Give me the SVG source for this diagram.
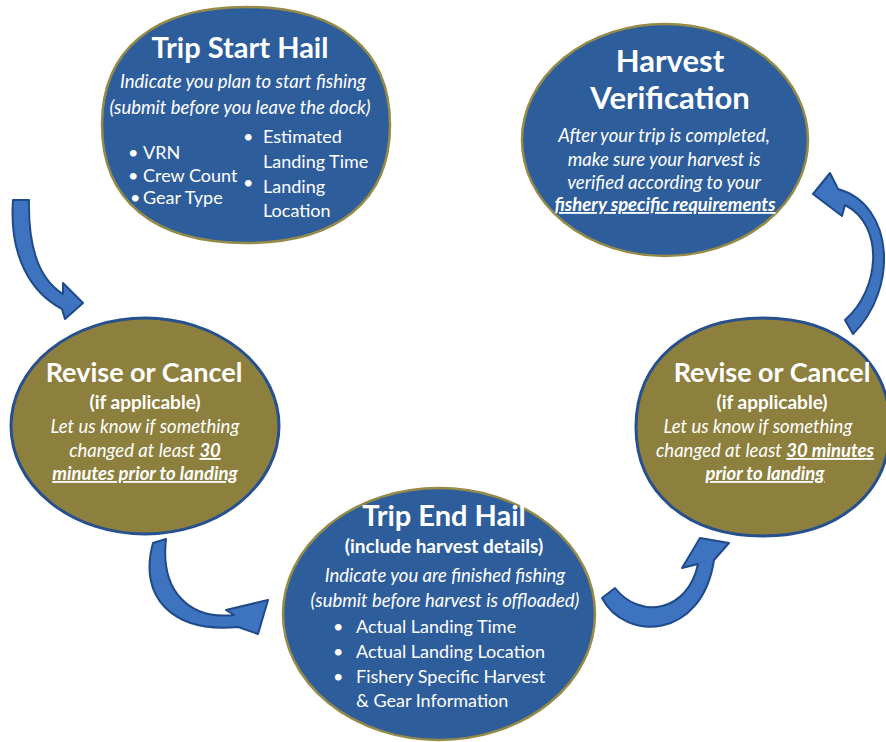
<svg xmlns="http://www.w3.org/2000/svg" width="886" height="742" viewBox="0 0 886 742">
<style>
.bg{fill:#ffffff}
.blue{fill:#2e5d9c;stroke:#958a48;stroke-width:2.5}
.olive{fill:#8d7f3d;stroke:#27508e;stroke-width:3}
.arrow{fill:#3e73c0;stroke:#1f4a8a;stroke-width:2;stroke-linejoin:round}
text{font-family:Lato,"Open Sans","Liberation Sans",sans-serif;fill:#ffffff}
.ttl{font-weight:700;font-size:29px;text-anchor:middle}
.ttl2{font-weight:700;font-size:27px;text-anchor:middle}
.sub{font-weight:700;font-size:19px;text-anchor:middle}
.it{font-style:italic;font-size:18.5px;text-anchor:middle}
.li{font-size:18px}
.u{font-weight:700;text-decoration:underline}
</style>
<rect class="bg" x="0" y="0" width="886" height="742"/>

<g id="trip-start-hail">
<path class="blue" d="M 390 125 C 390 200.5, 338.2 243, 246 243 C 153.8 243, 102 200.5, 102 125 C 102 49.5, 153.8 7, 246 7 C 338.2 7, 390 49.5, 390 125 Z"/>
<text class="ttl" x="240" y="58">Trip Start Hail</text>
<text class="it" x="243" y="88">Indicate you plan to start fishing</text>
<text class="it" x="240" y="114">(submit before you leave the dock)</text>
<text class="li" x="128" y="159">•</text><text class="li" x="143" y="159">VRN</text>
<text class="li" x="128" y="182">•</text><text class="li" x="143" y="182">Crew Count</text>
<text class="li" x="130" y="204">•</text><text class="li" x="143" y="204">Gear Type</text>
<text class="li" x="243" y="143">•</text><text class="li" x="263" y="143">Estimated</text>
<text class="li" x="263" y="168">Landing Time</text>
<text class="li" x="243" y="189">•</text><text class="li" x="263" y="193">Landing</text>
<text class="li" x="263" y="217">Location</text>
</g>

<g id="harvest-verification">
<ellipse class="blue" cx="665" cy="140" rx="143" ry="116"/>
<text class="ttl" x="670" y="72" style="font-size:31px">Harvest</text>
<text class="ttl" x="670" y="109" style="font-size:31px">Verification</text>
<text class="it" x="664" y="142">After your trip is completed,</text>
<text class="it" x="664" y="166">make sure your harvest is</text>
<text class="it" x="664" y="189">verified according to your</text>
<text class="it u" x="665" y="211">fishery specific requirements</text>
</g>

<g id="revise-cancel-left">
<ellipse class="olive" cx="145" cy="426" rx="134" ry="108"/>
<text class="ttl2" x="144" y="382">Revise or Cancel</text>
<text class="sub" x="145" y="409">(if applicable)</text>
<text class="it" x="145" y="433">Let us know if something</text>
<text class="it" x="145" y="457">changed at least <tspan class="u">30</tspan></text>
<text class="it u" x="145" y="480">minutes prior to landing</text>
</g>

<g id="revise-cancel-right">
<path class="olive" d="M 890 427 C 890 492.4, 839.2 536, 763 536 C 686.8 536, 636 492.4, 636 427 C 636 361.6, 686.8 318, 763 318 C 839.2 318, 890 361.6, 890 427 Z"/>
<text class="ttl2" x="772" y="382">Revise or Cancel</text>
<text class="sub" x="772" y="409">(if applicable)</text>
<text class="it" x="758" y="433">Let us know if something</text>
<text class="it" x="765" y="457">changed at least <tspan class="u">30 minutes</tspan></text>
<text class="it u" x="765" y="480">prior to landing</text>
</g>

<g id="trip-end-hail">
<ellipse class="blue" cx="439" cy="614" rx="156" ry="126"/>
<text class="ttl" x="444" y="526">Trip End Hail</text>
<text class="sub" x="444" y="553">(include harvest details)</text>
<text class="it" x="445" y="582">Indicate you are finished fishing</text>
<text class="it" x="445" y="607">(submit before harvest is offloaded)</text>
<text class="li" x="333" y="633">•</text><text class="li" x="356" y="633">Actual Landing Time</text>
<text class="li" x="333" y="658">•</text><text class="li" x="356" y="658">Actual Landing Location</text>
<text class="li" x="333" y="683">•</text><text class="li" x="356" y="683">Fishery Specific Harvest</text>
<text class="li" x="356" y="707">&amp; Gear Information</text>
</g>

<g id="connectors">
<path class="arrow" d="M 13 200 C 9 255, 30 292, 62 309 L 65 319 L 83 303 L 63 283 L 63 294 C 40 280, 28 250, 29 200 Z"/>
<path class="arrow" d="M 153 543 C 138 597, 172 633, 238 627 L 258 634 L 268 600 L 226 610 L 234 615 C 190 620, 160 592, 166 539 Z"/>
<path class="arrow" d="M 602 598 C 625 642, 702 640, 714 560 L 729 543 L 700 538 L 682 568 L 698 564 C 688 612, 640 620, 615 588 Z"/>
<path class="arrow" d="M 845 320 C 880 290, 885 225, 845 205 L 842 216 L 813 194 L 830 173 L 838 189 C 895 205, 898 290, 853 334 Z"/>
</g>
</svg>
